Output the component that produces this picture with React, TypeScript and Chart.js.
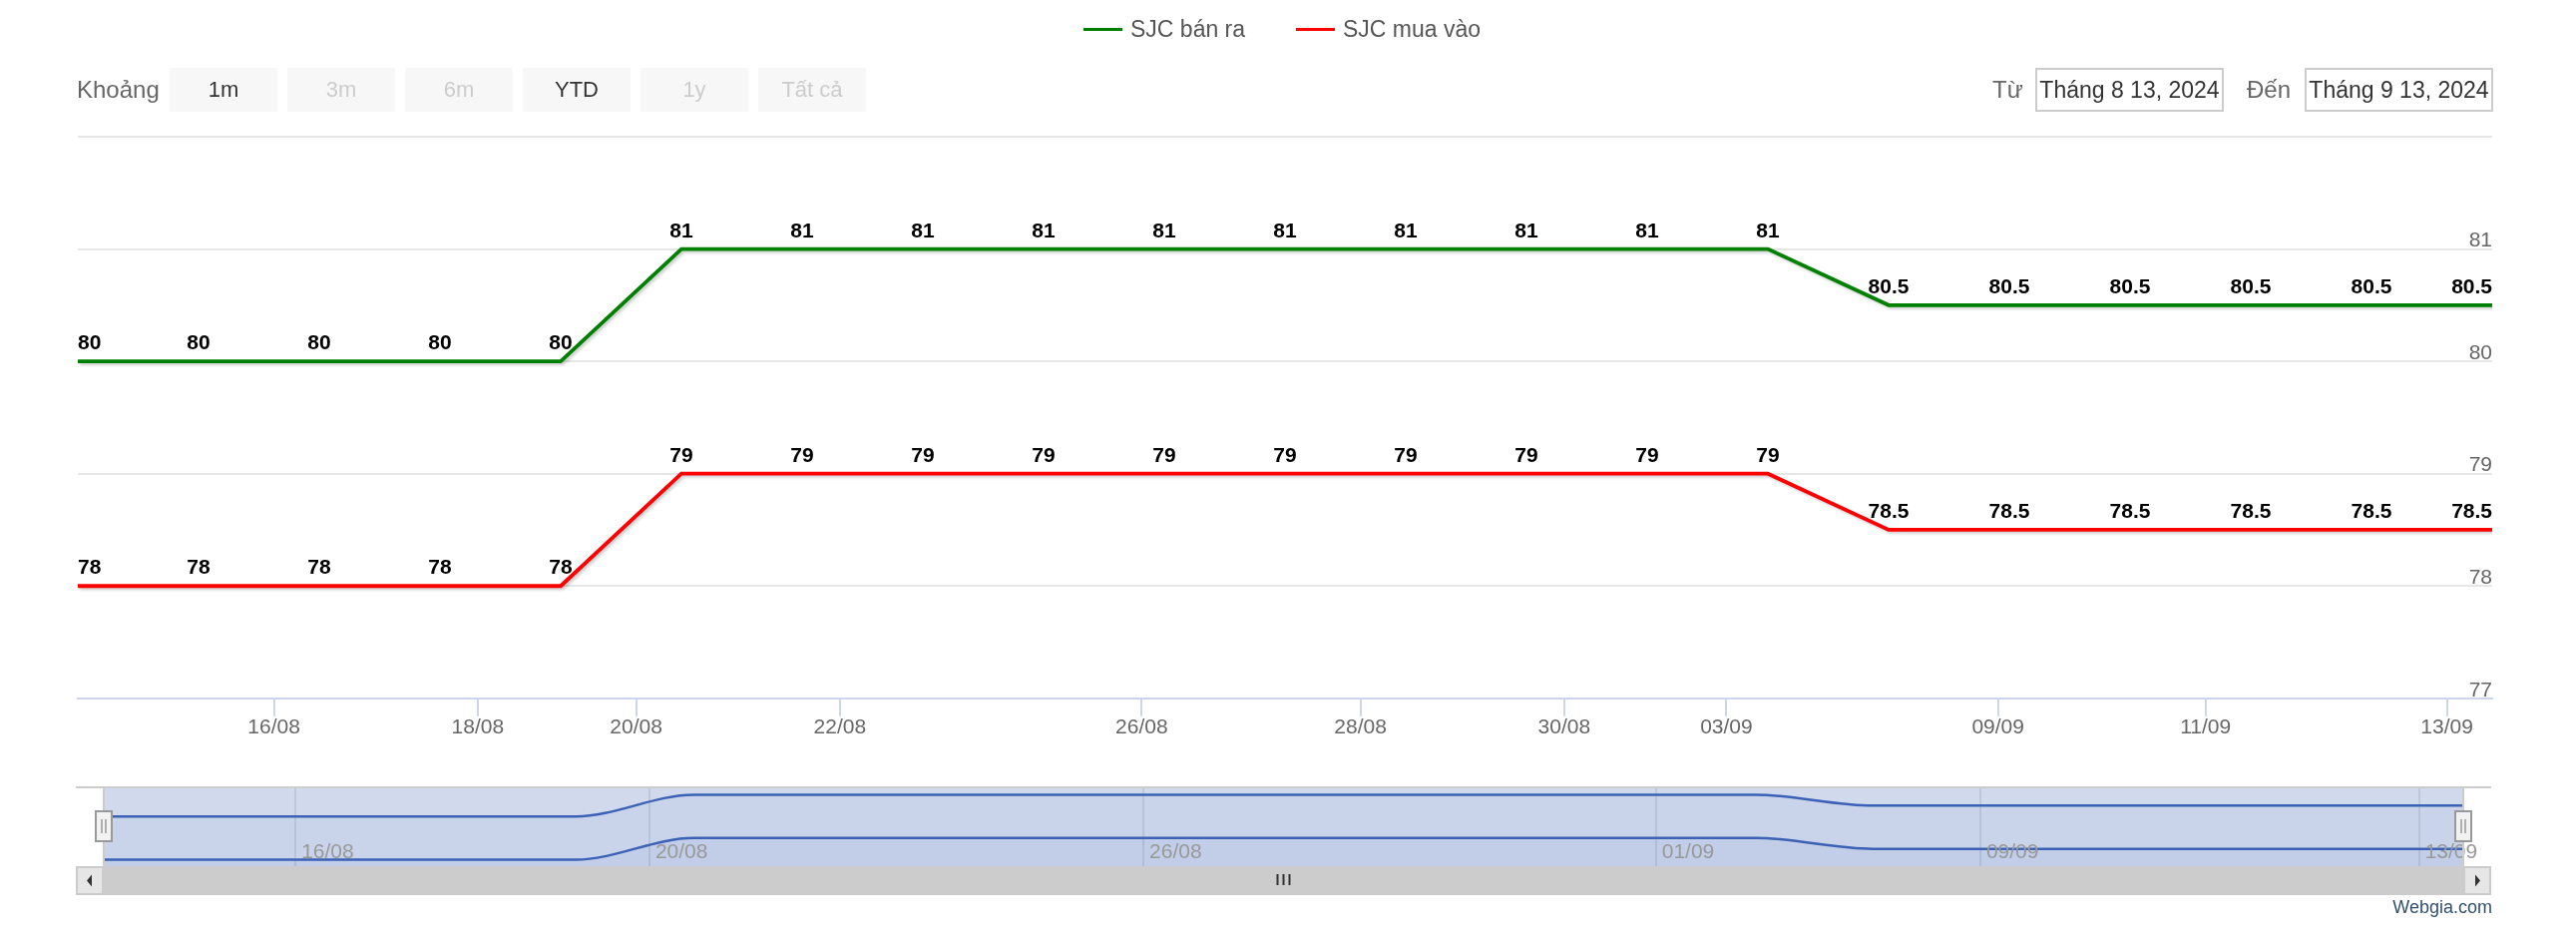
import React, { useEffect, useRef } from 'react';
import { Chart, registerables } from 'chart.js';

Chart.register(...registerables);

// ---------------- data ----------------
const POINT_DATES = [
  '2024-08-14', '2024-08-15', '2024-08-16', '2024-08-17', '2024-08-19',
  '2024-08-20', '2024-08-21', '2024-08-23', '2024-08-24', '2024-08-26',
  '2024-08-27', '2024-08-28', '2024-08-29', '2024-08-31', '2024-09-04',
  '2024-09-05', '2024-09-09', '2024-09-10', '2024-09-11', '2024-09-12',
  '2024-09-13',
];
const POINT_HOUR = 9;

const SELL = [80, 80, 80, 80, 80, 81, 81, 81, 81, 81, 81, 81, 81, 81, 81, 80.5, 80.5, 80.5, 80.5, 80.5, 80.5];
const BUY = [78, 78, 78, 78, 78, 79, 79, 79, 79, 79, 79, 79, 79, 79, 79, 78.5, 78.5, 78.5, 78.5, 78.5, 78.5];

const SERIES_NAMES = ['SJC bán ra', 'SJC mua vào'];
const SERIES_COLORS = ['#008000', '#ff0000'];
const SERIES_VALUES = [SELL, BUY];

const MAIN_TICK_DATES = [
  '2024-08-16', '2024-08-18', '2024-08-20', '2024-08-22', '2024-08-26',
  '2024-08-28', '2024-08-30', '2024-09-03', '2024-09-09', '2024-09-11', '2024-09-13',
];
const NAV_TICK_DATES = ['2024-08-16', '2024-08-20', '2024-08-26', '2024-09-01', '2024-09-09', '2024-09-13'];

const Y_MIN = 77;
const Y_MAX = 82;
const Y_STEP = 1;

const RANGE_LABEL = 'Khoảng';
const RANGE_BUTTONS = ['1m', '3m', '6m', 'YTD', '1y', 'Tất cả'];
const RANGE_ENABLED = [true, false, false, true, false, false];
const FROM_LABEL = 'Từ';
const TO_LABEL = 'Đến';
const FROM_TEXT = 'Tháng 8 13, 2024';
const TO_TEXT = 'Tháng 9 13, 2024';
const CREDIT = 'Webgia.com';

// ---------------- helpers ----------------
const FONT = '"Liberation Sans", Arial, Helvetica, sans-serif';

function toTime(s: string, hour: number) {
  const [y, m, d] = s.split('-').map(Number);
  return Date.UTC(y, m - 1, d, hour);
}
const pointTimes = POINT_DATES.map((d) => toTime(d, POINT_HOUR));

// ordinal position (index space) of a timestamp, like an ordinal time axis
function ordinalPos(t: number) {
  for (let i = 0; i < pointTimes.length - 1; i++) {
    if (t >= pointTimes[i] && t <= pointTimes[i + 1]) {
      return i + (t - pointTimes[i]) / (pointTimes[i + 1] - pointTimes[i]);
    }
  }
  return t < pointTimes[0] ? 0 : pointTimes.length - 1;
}
function fmtTick(s: string) {
  const [, m, d] = s.split('-');
  return d + '/' + m;
}

// ---------------- plugins ----------------
const shadowPlugin = {
  id: 'lineShadow',
  beforeDatasetDraw(chart: any) {
    const c = chart.ctx;
    c.save();
    c.shadowColor = 'rgba(0,0,0,0.2)';
    c.shadowBlur = 3;
    c.shadowOffsetX = 2;
    c.shadowOffsetY = 2;
  },
  afterDatasetDraw(chart: any) {
    chart.ctx.restore();
  },
};

const valueLabelPlugin = {
  id: 'valueLabels',
  afterDatasetsDraw(chart: any) {
    const { ctx, chartArea } = chart;
    ctx.save();
    ctx.font = `bold 21px ${FONT}`;
    ctx.textBaseline = 'alphabetic';
    ctx.textAlign = 'left';
    ctx.lineJoin = 'round';
    chart.data.datasets.forEach((ds: any, k: number) => {
      const meta = chart.getDatasetMeta(k);
      meta.data.forEach((pt: any, i: number) => {
        const txt = String(ds.data[i].y);
        const w = ctx.measureText(txt).width;
        let x = pt.x - w / 2;
        if (x < chartArea.left) x = chartArea.left;
        if (x + w > chartArea.right) x = chartArea.right - w;
        const y = pt.y - 12;
        ctx.strokeStyle = '#ffffff';
        ctx.lineWidth = 2;
        ctx.strokeText(txt, x, y);
        ctx.fillStyle = '#000000';
        ctx.fillText(txt, x, y);
      });
    });
    ctx.restore();
  },
};

const SB = 28; // scrollbar button width
const navPlugin = {
  id: 'navChrome',
  beforeDatasetsDraw(chart: any) {
    const { ctx, chartArea: a } = chart;
    ctx.save();
    ctx.fillStyle = 'rgba(102,133,194,0.3)';
    ctx.fillRect(a.left, a.top, a.right - a.left, a.bottom - a.top);
    ctx.restore();
  },
  afterDraw(chart: any) {
    const { ctx, chartArea: a, scales } = chart;
    const xs = scales.x;
    const outerL = a.left - SB;
    const outerR = a.right + SB;
    ctx.save();
    // navigator axis labels
    ctx.font = `21px ${FONT}`;
    ctx.fillStyle = '#999999';
    ctx.textAlign = 'left';
    ctx.textBaseline = 'alphabetic';
    xs.ticks.forEach((t: any, i: number) => {
      ctx.fillText(fmtTick(NAV_TICK_DATES[i]), xs.getPixelForValue(t.value) + 6, a.bottom - 8);
    });
    // outline
    ctx.strokeStyle = '#cccccc';
    ctx.lineWidth = 2;
    ctx.beginPath();
    ctx.moveTo(outerL, a.top - 1);
    ctx.lineTo(outerR, a.top - 1);
    ctx.moveTo(a.left, a.top);
    ctx.lineTo(a.left, a.bottom);
    ctx.moveTo(a.right, a.top);
    ctx.lineTo(a.right, a.bottom);
    ctx.stroke();
    // scrollbar
    const sy = a.bottom;
    const sh = 29;
    ctx.fillStyle = '#cccccc';
    ctx.fillRect(outerL, sy, outerR - outerL, sh);
    [outerL, a.right].forEach((bx, j) => {
      ctx.fillStyle = '#e6e6e6';
      ctx.fillRect(bx, sy, SB, sh);
      ctx.strokeStyle = '#cccccc';
      ctx.lineWidth = 2;
      ctx.strokeRect(bx + 1, sy + 1, SB - 2, sh - 2);
      const cx = bx + SB / 2;
      const cy = sy + sh / 2;
      ctx.fillStyle = '#333333';
      ctx.beginPath();
      if (j === 0) {
        ctx.moveTo(cx - 3, cy);
        ctx.lineTo(cx + 2, cy - 6);
        ctx.lineTo(cx + 2, cy + 6);
      } else {
        ctx.moveTo(cx + 3, cy);
        ctx.lineTo(cx - 2, cy - 6);
        ctx.lineTo(cx - 2, cy + 6);
      }
      ctx.closePath();
      ctx.fill();
    });
    // grip
    const gx = (a.left + a.right) / 2;
    ctx.strokeStyle = '#333333';
    ctx.lineWidth = 2;
    ctx.beginPath();
    [-6, 0, 6].forEach((o) => {
      ctx.moveTo(gx + o, sy + 8);
      ctx.lineTo(gx + o, sy + 19);
    });
    ctx.stroke();
    // handles
    const cy = (a.top + a.bottom) / 2 - 1;
    [a.left, a.right].forEach((hx) => {
      ctx.fillStyle = '#f2f2f2';
      ctx.fillRect(hx - 8, cy - 15, 16, 30);
      ctx.strokeStyle = '#999999';
      ctx.lineWidth = 2;
      ctx.strokeRect(hx - 8, cy - 15, 16, 30);
      ctx.lineWidth = 1.5;
      ctx.beginPath();
      ctx.moveTo(hx - 2, cy - 7);
      ctx.lineTo(hx - 2, cy + 7);
      ctx.moveTo(hx + 2, cy - 7);
      ctx.lineTo(hx + 2, cy + 7);
      ctx.stroke();
    });
    ctx.restore();
  },
};

// ---------------- component ----------------
const LEGEND_LEFTS = [1086, 1299];

export default function App() {
  const mainRef = useRef<HTMLCanvasElement>(null);
  const navRef = useRef<HTMLCanvasElement>(null);

  useEffect(() => {
    const n = POINT_DATES.length;
    const main = new Chart(mainRef.current as HTMLCanvasElement, {
      type: 'line',
      data: {
        datasets: SERIES_VALUES.map((vals, k) => ({
          label: SERIES_NAMES[k],
          data: vals.map((v, i) => ({ x: i, y: v })),
          borderColor: SERIES_COLORS[k],
          backgroundColor: SERIES_COLORS[k],
          borderWidth: 3.8,
          pointRadius: 0,
          fill: false,
          tension: 0,
        })),
      },
      options: {
        responsive: false,
        animation: false,
        devicePixelRatio: 1,
        events: [],
        layout: { padding: { left: 78, right: 84, top: 137, bottom: 19 } },
        plugins: { legend: { display: false }, tooltip: { enabled: false } },
        scales: {
          x: {
            type: 'linear',
            min: 0,
            max: n - 1,
            afterBuildTicks: (s: any) => {
              s.ticks = MAIN_TICK_DATES.map((d) => ({ value: ordinalPos(toTime(d, 0)) }));
            },
            ticks: {
              autoSkip: false,
              maxRotation: 0,
              padding: -1,
              color: '#666666',
              font: { family: FONT, size: 21 },
              callback: (_v: any, i: number) => fmtTick(MAIN_TICK_DATES[i]),
            },
            grid: {
              drawOnChartArea: false,
              drawTicks: true,
              tickLength: 18,
              tickColor: '#ccd6eb',
              tickWidth: 2,
              lineWidth: 2,
              color: '#ccd6eb',
            },
            border: { display: true, color: '#ccd6eb', width: 2 },
          },
          y: {
            position: 'right',
            min: Y_MIN,
            max: Y_MAX,
            ticks: {
              stepSize: Y_STEP,
              mirror: true,
              padding: 0,
              labelOffset: -8,
              color: '#666666',
              font: { family: FONT, size: 21 },
              callback: (v: any, i: number, t: any[]) => (i === t.length - 1 ? '' : String(v)),
            },
            grid: {
              color: (c: any) => (c.index === 0 ? 'rgba(0,0,0,0)' : '#e6e6e6'),
              lineWidth: 2,
              drawTicks: false,
            },
            border: { display: false },
          },
        },
      } as any,
      plugins: [shadowPlugin, valueLabelPlugin],
    });

    const nav = new Chart(navRef.current as HTMLCanvasElement, {
      type: 'line',
      data: {
        datasets: SERIES_VALUES.map((vals, k) => ({
          label: SERIES_NAMES[k],
          data: vals.map((v, i) => ({ x: i, y: v })),
          borderColor: '#3b62b6',
          backgroundColor: 'rgba(51,92,173,0.05)',
          borderWidth: 2.5,
          pointRadius: 0,
          fill: 'start',
          cubicInterpolationMode: 'monotone',
        })),
      },
      options: {
        responsive: false,
        animation: false,
        devicePixelRatio: 1,
        events: [],
        layout: { padding: { left: 104, right: 113, top: 4, bottom: 32 } },
        plugins: { legend: { display: false }, tooltip: { enabled: false } },
        scales: {
          x: {
            type: 'linear',
            min: 0,
            max: n - 1,
            afterBuildTicks: (s: any) => {
              s.ticks = NAV_TICK_DATES.map((d) => ({ value: ordinalPos(toTime(d, 0)) }));
            },
            ticks: { display: false },
            grid: { color: '#e6e6e6', lineWidth: 2, drawTicks: false },
            border: { display: false },
          },
          y: {
            display: false,
            bounds: 'data',
            afterDataLimits: (s: any) => {
              const r = s.max - s.min;
              s.min -= r * 0.1;
              s.max += r * 0.1;
            },
          },
        },
      } as any,
      plugins: [navPlugin],
    });

    return () => {
      main.destroy();
      nav.destroy();
    };
  }, []);

  const abs = (s: any): any => ({ position: 'absolute', ...s });

  return (
    <div style={abs({ left: 0, top: 0, width: 2582, height: 942, background: '#ffffff', fontFamily: FONT })}>
      <canvas ref={mainRef} width={2582} height={760} style={abs({ left: 0, top: 0, width: 2582, height: 760 })} />
      <canvas ref={navRef} width={2582} height={114} style={abs({ left: 0, top: 786, width: 2582, height: 114 })} />

      {/* legend */}
      {SERIES_NAMES.map((name, k) => (
        <div key={name} style={abs({ left: LEGEND_LEFTS[k], top: 14, height: 30, display: 'flex', alignItems: 'center', whiteSpace: 'nowrap' })}>
          <div style={{ width: 39, height: 3, background: SERIES_COLORS[k], marginRight: 8 }} />
          <span style={{ fontSize: 23, color: '#555555', lineHeight: '30px' }}>{name}</span>
        </div>
      ))}

      {/* range selector */}
      <div style={abs({ left: 77, top: 68, height: 44, display: 'flex', alignItems: 'center', fontSize: 24, color: '#666666' })}>
        {RANGE_LABEL}
      </div>
      {RANGE_BUTTONS.map((b, i) => (
        <div
          key={b}
          style={abs({
            left: 170 + i * 118,
            top: 68,
            width: 108,
            height: 44,
            background: '#f7f7f7',
            borderRadius: 2,
            display: 'flex',
            alignItems: 'center',
            justifyContent: 'center',
            fontSize: 22,
            color: RANGE_ENABLED[i] ? '#333333' : '#cccccc',
          })}
        >
          {b}
        </div>
      ))}

      {/* date inputs */}
      <div style={abs({ left: 1997, top: 68, height: 44, display: 'flex', alignItems: 'center', fontSize: 24, color: '#666666' })}>
        {FROM_LABEL}
      </div>
      <div
        style={abs({
          left: 2040, top: 68, width: 189, height: 44, boxSizing: 'border-box', border: '2px solid #cccccc',
          display: 'flex', alignItems: 'center', justifyContent: 'center', fontSize: 23, color: '#333333', whiteSpace: 'nowrap',
        })}
      >
        {FROM_TEXT}
      </div>
      <div style={abs({ left: 2252, top: 68, height: 44, display: 'flex', alignItems: 'center', fontSize: 24, color: '#666666' })}>
        {TO_LABEL}
      </div>
      <div
        style={abs({
          left: 2310, top: 68, width: 189, height: 44, boxSizing: 'border-box', border: '2px solid #cccccc',
          display: 'flex', alignItems: 'center', justifyContent: 'center', fontSize: 23, color: '#333333', whiteSpace: 'nowrap',
        })}
      >
        {TO_TEXT}
      </div>

      {/* credit */}
      <div style={abs({ right: 2582 - 2498, top: 898, fontSize: 18, color: '#34506f', lineHeight: '22px' })}>{CREDIT}</div>
    </div>
  );
}
